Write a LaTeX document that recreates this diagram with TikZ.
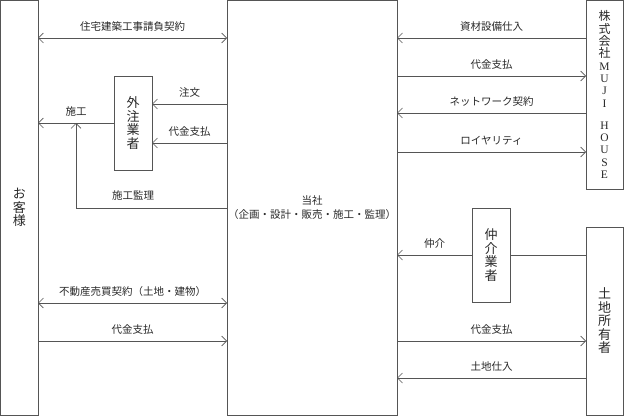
\documentclass[tikz,border=0pt]{standalone}
\usepackage{fontspec}
\setmainfont{Noto Sans CJK JP}
\newfontfamily\lserif{Liberation Serif}
\usetikzlibrary{arrows.meta}
\definecolor{ln}{RGB}{85,85,85}
\definecolor{tx}{RGB}{40,40,40}
\tikzset{
  box/.style={draw=ln, line width=0.7pt, inner sep=0pt, outer sep=0pt, anchor=north west, align=center, text=tx},
  vtext/.style={font=\fontsize{13}{13.5}\selectfont},
  arr/.style={draw=ln, line width=0.7pt, >={Straight Barb[length=5pt,width=10pt]}},
  lbl/.style={above=6pt, inner sep=0pt, text=tx, font=\fontsize{10.5}{12}\selectfont},
  lblfree/.style={inner sep=0pt, text=tx, font=\fontsize{10.5}{12}\selectfont},
}
\begin{document}
\begin{tikzpicture}[x=1pt,y=-1pt]
\useasboundingbox (0,0) rectangle (624,417);
% boxes
\node[box, vtext, minimum width=37.5pt, minimum height=414.5pt] (kyaku) at (0.5,0.5) {お\\客\\様};
\node[box, minimum width=170pt, minimum height=414.5pt, font=\fontsize{10.5}{14}\selectfont] (tosha) at (227,0.5) {当社\\（企画・設計・販売・施工・監理）};
\node[box, minimum width=37pt, minimum height=188.5pt, font=\fontsize{12}{12.3}\selectfont] (muji) at (586,0.5)
  {株\\式\\会\\社\\{\lserif\fontsize{11.5}{12}\selectfont M}\\{\lserif\fontsize{11.5}{12}\selectfont U}\\{\lserif\fontsize{11.5}{12}\selectfont J}\\{\lserif\fontsize{11.5}{12}\selectfont I}\\[10pt]{\lserif\fontsize{11.5}{12}\selectfont H}\\{\lserif\fontsize{11.5}{12}\selectfont O}\\{\lserif\fontsize{11.5}{12}\selectfont U}\\{\lserif\fontsize{11.5}{12}\selectfont S}\\{\lserif\fontsize{11.5}{12}\selectfont E}};
\node[box, vtext, minimum width=37pt, minimum height=188pt] (tochi) at (586,227) {土\\地\\所\\有\\者};
\node[box, vtext, minimum width=38pt, minimum height=94pt] (gaichu) at (114,76) {外\\注\\業\\者};
\node[box, vtext, minimum width=38pt, minimum height=94pt] (chukai) at (472,208) {仲\\介\\業\\者};
% left side connectors
\draw[arr,<->] (kyaku.east|-0,38) -- node[lbl]{住宅建築工事請負契約} (tosha.west|-0,38);
\draw[arr,->] (tosha.west|-0,104) -- node[lbl]{注文} (gaichu.east|-0,104);
\draw[arr,->] (tosha.west|-0,143) -- node[lbl]{代金支払} (gaichu.east|-0,143);
\draw[arr,->] (gaichu.west) -- node[lbl]{施工} (kyaku.east|-gaichu.west);
\coordinate (sk) at (76,123);
\draw[arr,->] (tosha.west|-0,208) -| (sk);
\node[lblfree] (skl) at (133,196) {施工監理};
\draw[arr,<->] (kyaku.east|-0,303) -- node[lbl]{不動産売買契約（土地・建物）} (tosha.west|-0,303);
\draw[arr,->] (kyaku.east|-0,341) -- node[lbl]{代金支払} (tosha.west|-0,341);
% right side connectors
\draw[arr,->] (muji.west|-0,38) -- node[lbl]{資材設備仕入} (tosha.east|-0,38);
\draw[arr,->] (tosha.east|-0,76) -- node[lbl]{代金支払} (muji.west|-0,76);
\draw[arr,->] (muji.west|-0,113) -- node[lbl]{ネットワーク契約} (tosha.east|-0,113);
\draw[arr,->] (tosha.east|-0,152) -- node[lbl]{ロイヤリティ} (muji.west|-0,152);
\draw[arr] (tochi.west|-chukai.east) -- (chukai.east);
\draw[arr,->] (chukai.west) -- node[lbl]{仲介} (tosha.east|-chukai.west);
\draw[arr,->] (tosha.east|-0,341) -- node[lbl]{代金支払} (tochi.west|-0,341);
\draw[arr,->] (tochi.west|-0,378) -- node[lbl]{土地仕入} (tosha.east|-0,378);
\end{tikzpicture}
\end{document}
